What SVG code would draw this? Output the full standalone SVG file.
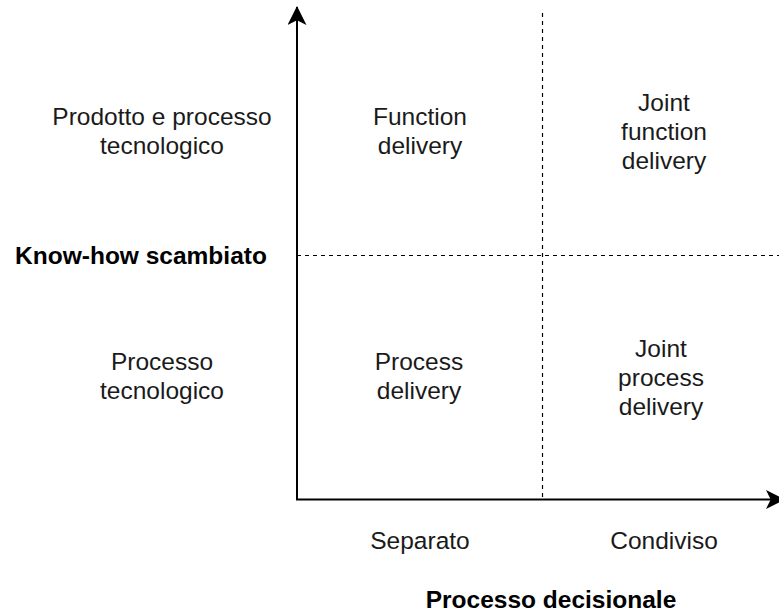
<svg xmlns="http://www.w3.org/2000/svg" width="779" height="614" viewBox="0 0 779 614">
<style>
.t{font-family:"Liberation Sans",Arial,Helvetica,sans-serif;font-size:24.5px;fill:#1a1a1a;text-anchor:middle}
.b{font-weight:bold;font-size:24.5px;fill:#000}
.axis{stroke:#000;stroke-width:2;fill:none}
.dash{stroke:#000;stroke-width:1.2;stroke-dasharray:4 4;fill:none}
</style>
<defs>
<marker id="ah" viewBox="0 0 20 20" refX="19" refY="10" markerWidth="19" markerHeight="19" markerUnits="userSpaceOnUse" orient="auto">
<path d="M0,0 L20,10 L0,20 L5,10 Z" fill="#000"/>
</marker>
</defs>
<g id="connectors">
<line class="dash" x1="542.5" y1="13" x2="542.5" y2="499"/>
<line class="dash" x1="297" y1="255.5" x2="779" y2="255.5"/>
<path class="axis" d="M297,499.5 L297,7" marker-end="url(#ah)"/>
<path class="axis" d="M296,499.5 L784,499.5" marker-end="url(#ah)"/>
</g>
<g id="row-top-label"><text class="t" x="162" y="125">Prodotto e processo</text><text class="t" x="162" y="154">tecnologico</text></g>
<g id="function-delivery"><text class="t" x="420" y="125">Function</text><text class="t" x="420" y="154">delivery</text></g>
<g id="joint-function-delivery"><text class="t" x="664" y="111">Joint</text><text class="t" x="664" y="140">function</text><text class="t" x="664" y="169">delivery</text></g>
<g id="know-how"><text class="t b" x="141" y="264">Know-how scambiato</text></g>
<g id="row-bottom-label"><text class="t" x="162" y="370">Processo</text><text class="t" x="162" y="399">tecnologico</text></g>
<g id="process-delivery"><text class="t" x="419" y="370">Process</text><text class="t" x="419" y="399">delivery</text></g>
<g id="joint-process-delivery"><text class="t" x="661" y="357">Joint</text><text class="t" x="661" y="386">process</text><text class="t" x="661" y="415">delivery</text></g>
<g id="separato"><text class="t" x="420" y="549">Separato</text></g>
<g id="condiviso"><text class="t" x="664" y="549">Condiviso</text></g>
<g id="processo-decisionale"><text class="t b" x="551" y="608">Processo decisionale</text></g>
</svg>
